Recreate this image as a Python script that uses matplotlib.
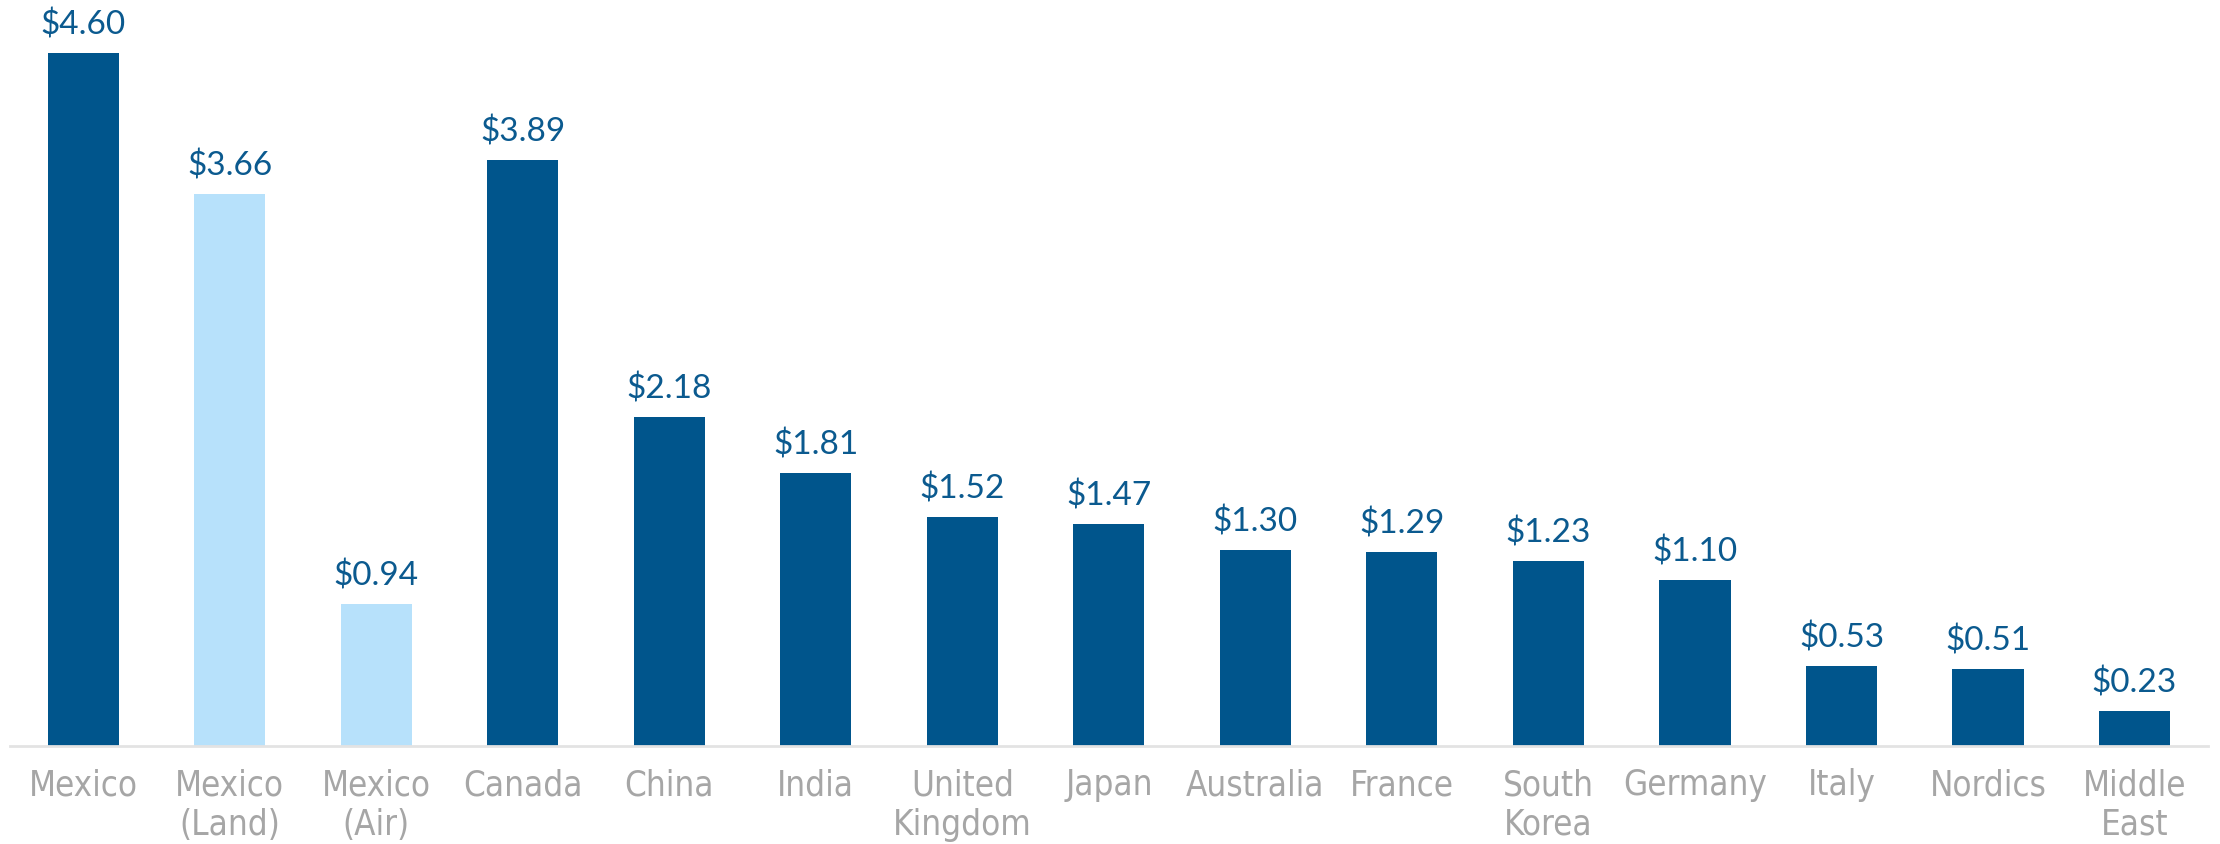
import matplotlib
matplotlib.use("Agg")
import matplotlib.pyplot as plt
from matplotlib import font_manager

categories = ["Mexico", "Mexico\n(Land)", "Mexico\n(Air)", "Canada", "China", "India",
              "United\nKingdom", "Japan", "Australia", "France", "South\nKorea",
              "Germany", "Italy", "Nordics", "Middle\nEast"]
values = [4.60, 3.66, 0.94, 3.89, 2.18, 1.81, 1.52, 1.47, 1.30, 1.29, 1.23, 1.10, 0.53, 0.51, 0.23]
highlight = [False, True, True, False, False, False, False, False, False, False, False,
             False, False, False, False]

dark = "#00558C"
light = "#B7E1FB"
label_color = "#0B5A8F"


def narrow_font():
    # pick a condensed face for the tick labels if one is installed
    for f in font_manager.fontManager.ttflist:
        if f.name == "Liberation Sans Narrow" and f.weight in (400, "normal", "regular"):
            return font_manager.FontProperties(fname=f.fname)
    for f in font_manager.fontManager.ttflist:
        if f.name == "DejaVu Sans" and "Condensed" in f.fname and "Bold" not in f.fname \
                and "Oblique" not in f.fname:
            return font_manager.FontProperties(fname=f.fname)
    return font_manager.FontProperties(family="Roboto", weight="light")


fig = plt.figure(figsize=(22.2, 8.44), dpi=100)
ax = fig.add_axes([0.0045, 1 - 746 / 844, 0.99, 746 / 844])

x = range(len(values))
colors = [light if h else dark for h in highlight]
ax.bar(x, values, width=0.485, color=colors)

for xi, v in zip(x, values):
    ax.annotate(f"${v:.2f}", (xi, v), xytext=(0, 9), textcoords="offset points",
                ha="center", va="bottom", fontsize=24, color=label_color, family="Lato")

ax.set_xlim(-0.5, len(values) - 0.5)
ax.set_ylim(0, 4.95)
ax.set_xticks(list(x))
tick_fp = narrow_font()
tick_fp.set_size(25)
ax.set_xticklabels(categories, color="#A6A6A6", linespacing=1.2, fontproperties=tick_fp)
ax.tick_params(axis="x", length=0, pad=16)
ax.set_yticks([])
for s in ["top", "right", "left"]:
    ax.spines[s].set_visible(False)
ax.spines["bottom"].set_color("#E3E3E3")
ax.spines["bottom"].set_linewidth(2)

fig.savefig("out.png", dpi=100)
